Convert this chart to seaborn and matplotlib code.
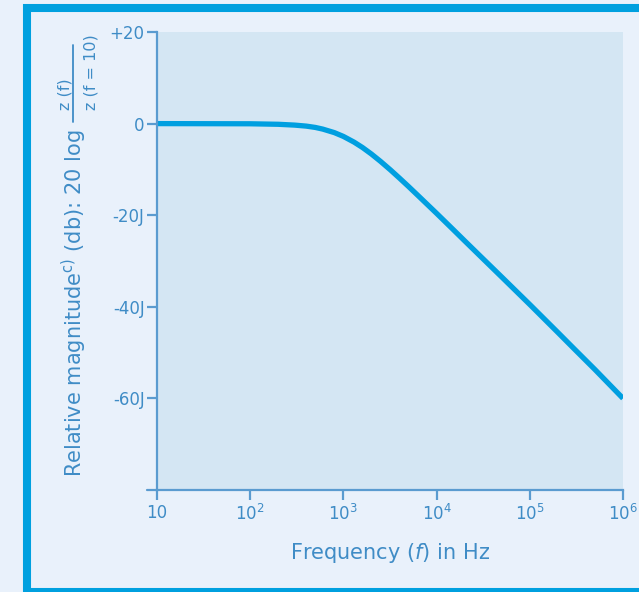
import numpy as np
import pandas as pd
import matplotlib.pyplot as plt
import seaborn as sns
from matplotlib.patches import Rectangle
from matplotlib.lines import Line2D

# frequency response
freq_hz = [10, 100, 200, 300, 400, 500, 600, 800, 1000, 1300, 1600, 2000, 2500,
           3200, 4000, 5000, 6500, 8000, 10000, 15000, 20000, 30000, 50000,
           100000, 200000, 300000, 500000, 1000000]
magnitude_db = [0, -0.04, -0.15, -0.33, -0.55, -0.84, -1.2, -1.97, -2.8, -4.04, -5.21, -6.65, -8.24,
                -10.12, -11.91, -13.74, -15.95, -17.71, -19.6, -23.1, -25.6, -29.1, -33.5,
                -39.5, -45.6, -49.2, -53.7, -60.0]

xtick_vals = [10, 100, 1000, 10000, 100000, 1000000]
xtick_labels = ["10", r"$\mathregular{10^{2}}$", r"$\mathregular{10^{3}}$",
                r"$\mathregular{10^{4}}$", r"$\mathregular{10^{5}}$", r"$\mathregular{10^{6}}$"]
ytick_vals = [20, 0, -20, -40, -60]
ytick_labels = ["+20", "0", "-20J", "-40J", "-60J"]

df = pd.DataFrame({"freq": freq_hz, "mag": magnitude_db})

sns.set_style("white")
plt.rcParams['font.family'] = ['DejaVu Sans']

txt_col = "#3f8cc6"
axis_col = "#5a9bd0"
line_col = "#009fe0"

W, H = 639, 592
fig = plt.figure(figsize=(W/100, H/100), dpi=100, facecolor="#e9f1fb")
ax = fig.add_axes([157/W, 1 - 490/H, (623 - 157)/W, (490 - 32)/H])
ax.set_facecolor("#d4e6f3")

sns.lineplot(data=df, x="freq", y="mag", ax=ax, color=line_col, linewidth=3.8,
             solid_capstyle="butt")

ax.set_xscale("log")
ax.set_xlim(10, 1e6)
ax.set_ylim(-80, 20)
ax.set_xticks(xtick_vals)
ax.set_xticklabels(xtick_labels)
ax.minorticks_off()
ax.set_yticks(ytick_vals)
ax.set_yticklabels(ytick_labels)

for s in ["top", "right"]:
    ax.spines[s].set_visible(False)
for s in ["left", "bottom"]:
    ax.spines[s].set_color(axis_col)
    ax.spines[s].set_linewidth(1.6)
# bottom axis line runs a little past the left axis
ax.plot([-10/466, 0], [0, 0], transform=ax.transAxes, color=axis_col, lw=1.6, clip_on=False)

ax.tick_params(axis="both", direction="out", length=7, width=1.6, color=axis_col,
               labelcolor=txt_col, labelsize=12, pad=2, bottom=True, left=True)
ax.tick_params(axis="x", pad=3)

ax.set_xlabel(r"Frequency ($f$) in Hz", color=txt_col, fontsize=15, labelpad=12)
ax.set_ylabel("")

# y label: text plus a stacked fraction, placed in figure pixels
fig.text(74/W, 1 - 477/H, r"Relative magnitude$^{\mathrm{c)}}$ (db): 20 log",
         rotation=90, ha="center", va="bottom", color=txt_col, fontsize=15)
fig.text(65/W, 1 - 110/H, "z (f)", rotation=90, ha="center", va="bottom",
         color=txt_col, fontsize=11.5)
fig.text(91/W, 1 - 110/H, "z (f = 10)", rotation=90, ha="center", va="bottom",
         color=txt_col, fontsize=11.5)
fig.add_artist(Line2D([73/W, 73/W], [1 - 122/H, 1 - 45/H], color=txt_col, lw=1.3))

# blue frame around the figure
fig.patches.append(Rectangle((27/W, 0), 1.2, 1 - 8/H, transform=fig.transFigure,
                             fill=False, edgecolor="#00a0df", linewidth=5.8, clip_on=False))

fig.savefig("out.png", dpi=100, facecolor=fig.get_facecolor())
